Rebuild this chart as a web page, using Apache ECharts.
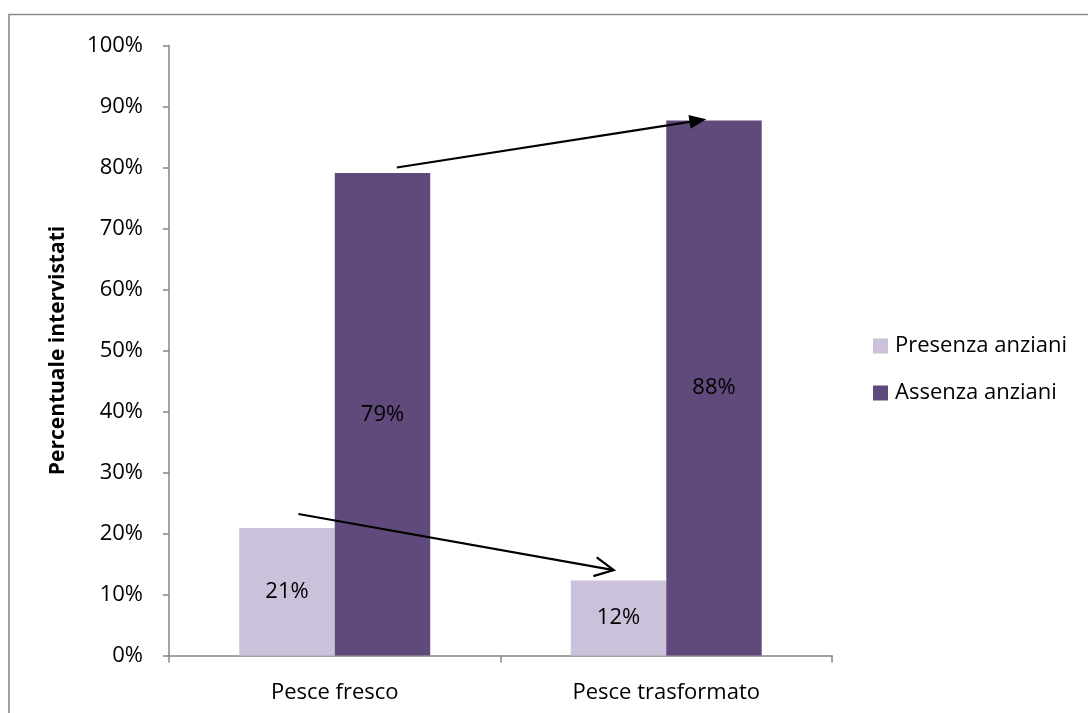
<!DOCTYPE html>
<html>
<head>
<meta charset="utf-8">
<script src="https://cdn.jsdelivr.net/npm/echarts@6/dist/echarts.min.js"></script>
<style>
  html, body { margin: 0; padding: 0; background: #fff; }
  #chart { width: 1088px; height: 713px; }
</style>
</head>
<body>
<div id="chart"></div>
<script>
// Categories and shares of respondents (%)
const categories = ['Pesce fresco', 'Pesce trasformato'];
const seriesNames = ['Presenza anziani', 'Assenza anziani'];
const presenza = [20.9, 12.3];
const assenza = [79.1, 87.7];
const yTicks = [0, 10, 20, 30, 40, 50, 60, 70, 80, 90, 100];

// Trend arrows between the two categories: [category, value] pairs for each series
const trendArrows = [
  { series: 1, from: [0, 80.0], to: [1, 87.9], head: 'filled' },
  { series: 0, from: [0, 23.2], to: [1, 14.0], head: 'open' }
];

const FONT = 'Open Sans';
const FS = 22;
const BAR_GAP = 0.424; // barCategoryGap as a fraction

const chart = echarts.init(document.getElementById('chart'), null, { renderer: 'canvas' });

const labelStyle = {
  show: true,
  position: 'inside',
  color: '#000',
  fontFamily: FONT,
  fontSize: FS,
  formatter: p => Math.round(p.value) + '%'
};

chart.setOption({
  animation: false,
  backgroundColor: '#fff',
  textStyle: { fontFamily: FONT },
  grid: { left: 169, right: 256, top: 45.5, bottom: 57.5 },
  legend: {
    orient: 'vertical',
    left: 868,
    top: 330,
    itemWidth: 15,
    itemHeight: 15,
    itemGap: 25,
    icon: 'rect',
    textStyle: { fontFamily: FONT, fontSize: FS, lineHeight: 22, color: '#000', padding: [0, 0, 0, 2] },
    data: seriesNames
  },
  xAxis: {
    type: 'category',
    data: categories,
    axisLine: { lineStyle: { color: '#868686', width: 1.5 } },
    axisTick: { show: true, length: 7, lineStyle: { color: '#868686', width: 1.5 } },
    axisLabel: { color: '#000', fontFamily: FONT, fontSize: FS, margin: 26 }
  },
  yAxis: {
    type: 'value',
    min: yTicks[0],
    max: yTicks[yTicks.length - 1],
    interval: yTicks[1] - yTicks[0],
    name: 'Percentuale intervistati',
    nameLocation: 'middle',
    nameRotate: 90,
    nameGap: 100,
    nameMoveOverlap: false,
    nameTextStyle: { color: '#000', fontFamily: FONT, fontSize: 21, fontWeight: 'bold' },
    axisLine: { show: true, lineStyle: { color: '#868686', width: 1.5 } },
    axisTick: { show: true, length: 6, lineStyle: { color: '#868686', width: 1.5 } },
    axisLabel: { color: '#000', fontFamily: FONT, fontSize: FS, margin: 26, formatter: '{value}%' },
    splitLine: { show: false }
  },
  series: [
    {
      name: seriesNames[0],
      type: 'bar',
      data: presenza,
      barGap: '0%',
      barCategoryGap: (BAR_GAP * 100) + '%',
      itemStyle: { color: '#CCC1DA' },
      label: labelStyle
    },
    {
      name: seriesNames[1],
      type: 'bar',
      data: assenza,
      barGap: '0%',
      barCategoryGap: (BAR_GAP * 100) + '%',
      itemStyle: { color: '#604A7B' },
      label: labelStyle
    }
  ]
});

// Arrows are placed from the axes' own scales, offset to each bar's centre
function buildArrows() {
  const c0 = chart.convertToPixel({ gridIndex: 0 }, [0, 0]);
  const c1 = chart.convertToPixel({ gridIndex: 0 }, [1, 0]);
  const band = c1[0] - c0[0];
  const barW = band * (1 - BAR_GAP) / 2;
  // small shifts inside the bar, as a fraction of its width: [start, end]
  const shifts = [[0.15, -0.08], [0.12, -0.05]];
  const els = [];
  trendArrows.forEach((a, i) => {
    const side = a.series === 0 ? -0.5 : 0.5;
    const p0 = chart.convertToPixel({ gridIndex: 0 }, a.from);
    const p1 = chart.convertToPixel({ gridIndex: 0 }, a.to);
    const x1 = p0[0] + barW * (side + shifts[i][0]);
    const y1 = p0[1];
    const x2 = p1[0] + barW * (side + shifts[i][1]);
    const y2 = p1[1];
    const len = Math.hypot(x2 - x1, y2 - y1);
    const ux = (x2 - x1) / len, uy = (y2 - y1) / len;
    const nx = -uy, ny = ux;
    if (a.head === 'filled') {
      const L = 17, W = 7;
      const bx = x2 - ux * L, by = y2 - uy * L;
      els.push({ type: 'line', z: 100, shape: { x1, y1, x2: bx + ux * 2, y2: by + uy * 2 },
        style: { stroke: '#000', lineWidth: 2.2 } });
      els.push({ type: 'polygon', z: 100, shape: { points: [[x2, y2], [bx + nx * W, by + ny * W], [bx - nx * W, by - ny * W]] },
        style: { fill: '#000' } });
    } else {
      const L = 19, W = 9.5;
      const bx = x2 - ux * L, by = y2 - uy * L;
      els.push({ type: 'line', z: 100, shape: { x1, y1, x2, y2 },
        style: { stroke: '#000', lineWidth: 2.2 } });
      els.push({ type: 'polyline', z: 100, shape: { points: [[bx + nx * W, by + ny * W], [x2, y2], [bx - nx * W, by - ny * W]] },
        style: { stroke: '#000', lineWidth: 2.2, fill: null } });
    }
  });
  // chart area frame
  els.push({ type: 'rect', z: 1, shape: { x: 9, y: 14.5, width: 1200, height: 800 },
    style: { stroke: '#8c8c8c', lineWidth: 1.6, fill: null } });
  chart.setOption({ graphic: { elements: els } });
}
buildArrows();
</script>
</body>
</html>
